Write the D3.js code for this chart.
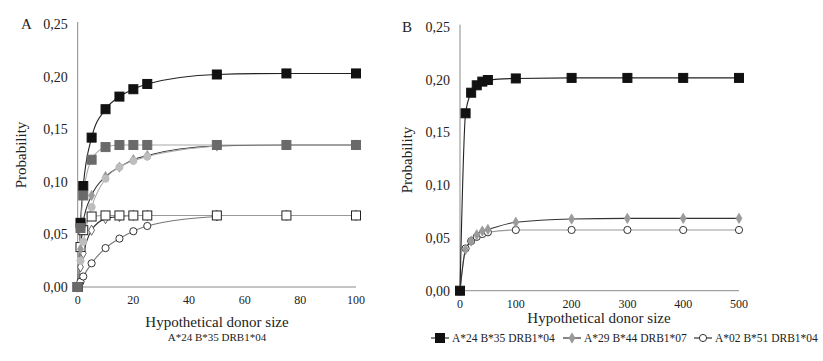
<!DOCTYPE html>
<html lang="en">
<head>
<meta charset="UTF-8">
<title>Probability vs hypothetical donor size</title>
<script src="https://d3js.org/d3.v7.min.js"></script>
<style>
  body { margin: 0; background: #fff; }
</style>
</head>
<body>
<div id="chart"></div>
<script>
// ---- data, panel A (x = hypothetical donor size)
const xA = [0, 1, 2, 5, 10, 15, 20, 25, 50, 75, 100];
const blackSqA   = [0, 0.061, 0.096, 0.142, 0.169, 0.181, 0.188, 0.193, 0.202, 0.203, 0.203];
const graySqA    = [0, 0.056, 0.087, 0.121, 0.133, 0.135, 0.135, 0.135, 0.135, 0.135, 0.135];
const whiteSqA   = [0, 0.038, 0.054, 0.067, 0.068, 0.068, 0.068, 0.068, 0.068, 0.068, 0.068];
const xSlowA = [0, 1, 2, 5, 10, 15, 20, 25, 50];
const grayDiaA   = [0, 0.036, 0.062, 0.087, 0.105, 0.114, 0.121, 0.125, 0.134, 0.135, 0.135];
const lightCirA  = [0, 0.025, 0.043, 0.076, 0.103, 0.114, 0.120, 0.124, 0.134];
const whiteDiaA  = [0, 0.019, 0.032, 0.054, 0.065, 0.067, 0.068, 0.068, 0.068, 0.068, 0.068];
const whiteCirA  = [0, 0.005, 0.010, 0.0225, 0.037, 0.046, 0.053, 0.058, 0.067];
const xTicksA = [0, 20, 40, 60, 80, 100];

// ---- data, panel B
const xB = [0, 10, 20, 30, 40, 50, 100, 200, 300, 400, 500];
const blackSqB  = [0, 0.168, 0.1875, 0.1945, 0.198, 0.1995, 0.201, 0.2015, 0.2015, 0.2015, 0.2015];
const grayDiaB  = [0, 0.039, 0.047, 0.053, 0.0565, 0.058, 0.0648, 0.0679, 0.0685, 0.0685, 0.0685];
const whiteCirB = [0, 0.040, 0.047, 0.051, 0.0537, 0.0553, 0.0575, 0.0575, 0.0575, 0.0575, 0.0575];
const xTicksB = [0, 100, 200, 300, 400, 500];

const yTicks = [0, 0.05, 0.10, 0.15, 0.20, 0.25];
const legendNames = ["A*24 B*35 DRB1*04", "A*29 B*44 DRB1*07", "A*02 B*51 DRB1*04"];

const FONT = "'Liberation Serif', 'Times New Roman', 'DejaVu Serif', serif";
const W = 823, H = 361;
const svg = d3.select("#chart").append("svg")
  .attr("width", W).attr("height", H)
  .attr("font-family", FONT)
  .style("font-family", FONT);

const fmt = v => d3.format(".2f")(v).replace(".", ",");

function pairs(xs, ys) {
  return ys.map((y, i) => ({x: xs[i], y: y}));
}

function drawMarker(g, shape, px, py, fill, stroke) {
  if (shape === "square") {
    g.append("rect").attr("x", px - 4.5).attr("y", py - 4.5)
      .attr("width", 9).attr("height", 9)
      .attr("fill", fill).attr("stroke", stroke).attr("stroke-width", 1);
  } else if (shape === "diamond") {
    g.append("path").attr("d", d3.symbol(d3.symbolDiamond, 30)())
      .attr("transform", `translate(${px},${py})`)
      .attr("fill", fill).attr("stroke", stroke).attr("stroke-width", 0.8);
  } else {
    g.append("circle").attr("cx", px).attr("cy", py).attr("r", 3.6)
      .attr("fill", fill).attr("stroke", stroke).attr("stroke-width", 1);
  }
}

function panel(opt) {
  const x = d3.scaleLinear().domain(opt.xDomain).range(opt.xRange);
  const y = d3.scaleLinear().domain([0, 0.25]).range(opt.yRange);
  const g = svg.append("g").attr("fill", "#222");

  // axis lines
  g.append("line").attr("x1", x(0)).attr("x2", x(0))
    .attr("y1", y(0.25) - 2).attr("y2", y(0))
    .attr("stroke", "#8a8a8a").attr("stroke-width", 1);
  g.append("line").attr("x1", x(0)).attr("x2", x(opt.xDomain[1]))
    .attr("y1", y(0)).attr("y2", y(0))
    .attr("stroke", "#8a8a8a").attr("stroke-width", 1);

  // y tick labels
  g.selectAll(".yt").data(yTicks).enter().append("text")
    .attr("x", x(0) - 10).attr("y", d => y(d) + 5)
    .attr("text-anchor", "end").attr("font-size", 14)
    .text(fmt);

  // x tick labels
  g.selectAll(".xt").data(opt.xTicks).enter().append("text")
    .attr("x", d => x(d)).attr("y", opt.xTickY)
    .attr("text-anchor", "middle").attr("font-size", 12)
    .text(d => d);

  const line = d3.line().x(d => x(d.x)).y(d => y(d.y)).curve(d3.curveMonotoneX);

  opt.series.forEach(s => {
    g.append("path").datum(s.data)
      .attr("fill", "none").attr("stroke", s.line)
      .attr("stroke-width", 1.1).attr("d", line);
  });
  opt.series.forEach(s => {
    s.data.forEach(d => drawMarker(g, s.shape, x(d.x), y(d.y), s.fill, s.stroke));
  });

  // panel letter
  g.append("text").attr("x", opt.letterX).attr("y", y(0.25) + 5)
    .attr("font-size", 15).text(opt.letter);

  // y title
  g.append("text")
    .attr("transform", `translate(${opt.yTitleX},${opt.yTitleY}) rotate(-90)`)
    .attr("text-anchor", "middle").attr("font-size", 15)
    .text("Probability");

  // x title
  g.append("text").attr("x", opt.xTitleX).attr("y", opt.xTitleY)
    .attr("text-anchor", "middle").attr("font-size", 15)
    .text("Hypothetical donor size");

  return {x, y, g};
}

panel({
  letter: "A", letterX: 21,
  xDomain: [0, 100], xRange: [77.7, 356],
  yRange: [287, 24],
  xTicks: xTicksA, xTickY: 304,
  yTitleX: 26, yTitleY: 155,
  xTitleX: 217, xTitleY: 327,
  series: [
    {data: pairs(xA, whiteDiaA), shape: "diamond", fill: "#fff", stroke: "#444", line: "#333"},
    {data: pairs(xSlowA, whiteCirA), shape: "circle", fill: "#fff", stroke: "#333", line: "#777"},
    {data: pairs(xA, whiteSqA), shape: "square", fill: "#fff", stroke: "#222", line: "#999"},
    {data: pairs(xA, grayDiaA), shape: "diamond", fill: "#9a9a9a", stroke: "#9a9a9a", line: "#333"},
    {data: pairs(xSlowA, lightCirA), shape: "circle", fill: "#bdbdbd", stroke: "#bdbdbd", line: "#aaa"},
    {data: pairs(xA, blackSqA), shape: "square", fill: "#111", stroke: "#111", line: "#222"},
    {data: pairs(xA, graySqA), shape: "square", fill: "#6a6a6a", stroke: "#6a6a6a", line: "#a8a8a8"}
  ]
});

// subtitle under panel A
svg.append("text").attr("x", 217).attr("y", 341).attr("fill", "#222")
  .attr("text-anchor", "middle").attr("font-size", 11)
  .text(legendNames[0]);

panel({
  letter: "B", letterX: 402,
  xDomain: [0, 500], xRange: [460, 739],
  yRange: [290.7, 26.7],
  xTicks: xTicksB, xTickY: 308,
  yTitleX: 412, yTitleY: 160,
  xTitleX: 599, xTitleY: 323,
  series: [
    {data: pairs(xB, whiteCirB), shape: "circle", fill: "#fff", stroke: "#333", line: "#999"},
    {data: pairs(xB, grayDiaB), shape: "diamond", fill: "#9a9a9a", stroke: "#9a9a9a", line: "#333"},
    {data: pairs(xB, blackSqB), shape: "square", fill: "#111", stroke: "#111", line: "#222"}
  ]
});

// legend
const legendItems = [
  {name: legendNames[0], shape: "square", fill: "#111", stroke: "#111", lx: 431},
  {name: legendNames[1], shape: "diamond", fill: "#9a9a9a", stroke: "#9a9a9a", lx: 563},
  {name: legendNames[2], shape: "circle", fill: "#fff", stroke: "#333", lx: 694}
];
const lg = svg.append("g").attr("fill", "#222");
legendItems.forEach(it => {
  const ly = 338;
  lg.append("line").attr("x1", it.lx).attr("x2", it.lx + 18)
    .attr("y1", ly).attr("y2", ly).attr("stroke", "#222").attr("stroke-width", 1.1);
  drawMarker(lg, it.shape, it.lx + 9, ly, it.fill, it.stroke);
  lg.append("text").attr("x", it.lx + 21).attr("y", ly + 4)
    .attr("font-size", 11.5)
    .text(it.name);
});
</script>
</body>
</html>
